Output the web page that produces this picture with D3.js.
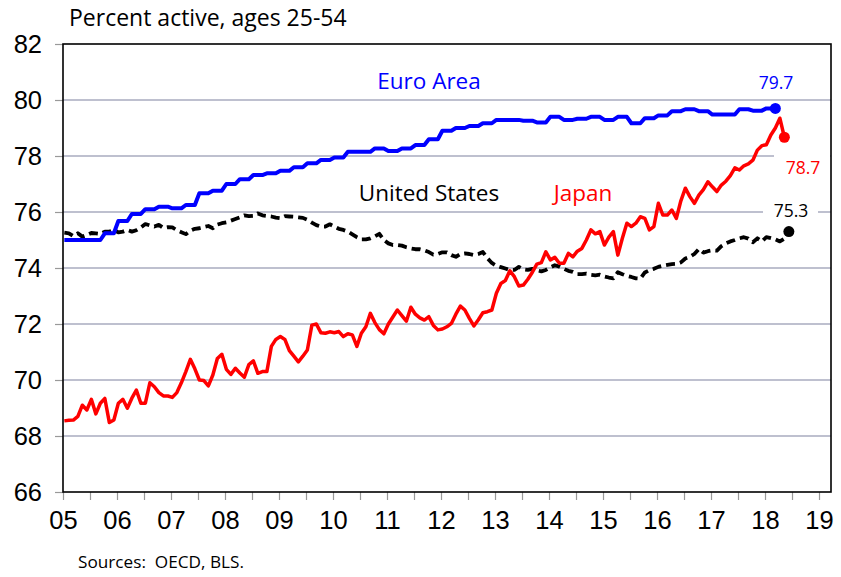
<!DOCTYPE html>
<html>
<head>
<meta charset="utf-8">
<script src="https://cdn.jsdelivr.net/npm/d3@7"></script>
<style>
  html, body { margin: 0; padding: 0; background: #fff; }
  svg { display: block; }
</style>
</head>
<body>
<svg id="chart" width="841" height="577"></svg>
<script>
// Prime-age (25-54) labour force participation, percent
const yearTicks = ["05","06","07","08","09","10","11","12","13","14","15","16","17","18","19"];
const yTicks = [66, 68, 70, 72, 74, 76, 78, 80, 82];

// Euro Area: quarterly, 2005Q1 - 2018Q1
const euroArea = [
  75.0, 75.0, 75.0, 75.24,
  75.68, 75.93, 76.1, 76.19,
  76.13, 76.25, 76.67, 76.76,
  77.0, 77.17, 77.32, 77.38,
  77.47, 77.6, 77.74, 77.86,
  77.95, 78.15, 78.15, 78.27,
  78.18, 78.27, 78.39, 78.6,
  78.9, 79.0, 79.07, 79.17,
  79.29, 79.29, 79.26, 79.2,
  79.4, 79.29, 79.33, 79.4,
  79.29, 79.4, 79.17, 79.35,
  79.45, 79.6, 79.67, 79.6,
  79.48, 79.48, 79.67, 79.62,
  79.7
];

// Japan: monthly, Jan 2005 - May 2018
const japan = [
  68.54, 68.56, 68.57, 68.7, 69.1, 68.93, 69.31, 68.79, 69.17, 69.34, 68.48, 68.57,
  69.17, 69.31, 68.99, 69.35, 69.64, 69.17, 69.17, 69.9, 69.76, 69.55, 69.43, 69.43,
  69.38, 69.55, 69.9, 70.3, 70.74, 70.4, 70.0, 69.98, 69.79, 70.18, 70.77, 70.92,
  70.38, 70.2, 70.42, 70.25, 70.1, 70.55, 70.68, 70.24, 70.3, 70.3, 71.2, 71.45,
  71.55, 71.45, 71.05, 70.85, 70.65, 70.85, 71.07, 71.96, 72.0, 71.69, 71.67, 71.72,
  71.69, 71.73, 71.55, 71.65, 71.61, 71.2, 71.67, 71.9, 72.38, 72.05, 71.8, 71.65,
  72.0, 72.25, 72.5, 72.3, 72.1, 72.6, 72.35, 72.22, 72.14, 72.26, 71.95, 71.79,
  71.82, 71.9, 72.02, 72.35, 72.64, 72.5, 72.2, 71.93, 72.15, 72.4, 72.44, 72.5,
  73.1, 73.45, 73.55, 73.9, 73.69, 73.36, 73.39, 73.6, 73.85, 74.14, 74.19, 74.58,
  74.29, 74.38, 74.17, 74.17, 74.52, 74.4, 74.6, 74.7, 75.0, 75.36, 75.22, 75.3,
  74.82, 75.1, 75.3, 74.46, 75.06, 75.6, 75.48, 75.6, 75.83, 75.77, 75.36, 75.48,
  76.31, 75.89, 75.89, 76.07, 75.77, 76.4, 76.85, 76.55, 76.31, 76.6, 76.8, 77.08,
  76.9, 76.73, 76.96, 77.1, 77.3, 77.58, 77.5, 77.65, 77.72, 77.85, 78.21, 78.37,
  78.4, 78.75, 79.0, 79.35, 78.67
];

// United States: monthly, Jan 2005 - Jun 2018
const unitedStates = [
  75.26, 75.24, 75.14, 75.24, 75.12, 75.18, 75.25, 75.24, 75.22, 75.3, 75.3, 75.36,
  75.27, 75.3, 75.36, 75.3, 75.35, 75.45, 75.57, 75.52, 75.48, 75.54, 75.43, 75.46,
  75.45, 75.35, 75.28, 75.21, 75.33, 75.4, 75.42, 75.46, 75.5, 75.42, 75.55, 75.6,
  75.63, 75.69, 75.75, 75.81, 75.88, 75.85, 75.86, 75.95, 75.88, 75.86, 75.84, 75.8,
  75.78, 75.85, 75.84, 75.83, 75.81, 75.79, 75.72, 75.62, 75.53, 75.48, 75.48, 75.56,
  75.48, 75.4, 75.36, 75.3, 75.2, 75.1, 75.02, 75.02, 75.06, 75.13, 75.22, 75.0,
  74.88, 74.82, 74.82, 74.8, 74.74, 74.7, 74.67, 74.67, 74.63, 74.57, 74.48, 74.5,
  74.56, 74.56, 74.46, 74.4, 74.5, 74.52, 74.5, 74.46, 74.5, 74.57, 74.35, 74.18,
  74.08, 74.03, 73.98, 73.93, 73.93, 74.04, 73.95, 73.93, 73.97, 73.92, 73.88, 73.93,
  74.02, 74.1, 74.05, 73.97, 73.9, 73.86, 73.78, 73.78, 73.8, 73.76, 73.74, 73.76,
  73.7, 73.66, 73.63, 73.85, 73.78, 73.72, 73.68, 73.63, 73.62, 73.84, 73.92, 73.97,
  74.04, 74.08, 74.11, 74.14, 74.15, 74.2, 74.34, 74.4, 74.5, 74.68, 74.55, 74.6,
  74.63, 74.62, 74.78, 74.88, 74.95, 75.0, 75.06, 75.1, 75.05, 74.92, 75.06, 74.95,
  75.1, 75.07, 75.02, 74.95, 75.05, 75.3
];

const W = 841, H = 577;
const margin = { left: 63, right: 10, top: 44, bottom: 85 };
const plotRight = W - margin.right;
const plotBottom = H - margin.bottom;

const svg = d3.select("#chart");

const x = d3.scaleLinear().domain([2005, 2019.222]).range([margin.left, plotRight]);
const y = d3.scaleLinear().domain([66, 82]).range([plotBottom, margin.top]);

// month index -> decimal year (points sit just inside each month)
const monthTime = m => 2005 + (m + 0.3) / 12;

// quarterly values carried across the three months of each quarter
const euroPts = [];
euroArea.forEach((v, q) => { for (let k = 0; k < 3; k++) euroPts.push([monthTime(q * 3 + k), v]); });
const japanPts = japan.map((v, m) => [monthTime(m), v]);
const usPts = unitedStates.map((v, m) => [monthTime(m), v]);

const sans = "'Open Sans', 'Noto Sans', sans-serif";
const arial = "'Liberation Sans', Arial, sans-serif";

// horizontal gridlines
svg.append("g")
  .selectAll("line")
  .data(yTicks.slice(1, -1))
  .join("line")
  .attr("x1", margin.left).attr("x2", plotRight)
  .attr("y1", d => y(d)).attr("y2", d => y(d))
  .attr("stroke", "#a9abbf").attr("stroke-width", 1.5);

// y axis
const yAxis = svg.append("g")
  .attr("transform", `translate(${margin.left},0)`)
  .call(d3.axisLeft(y).tickValues(yTicks).tickSize(8).tickPadding(13).tickFormat(d3.format("d")));
yAxis.select(".domain").remove();
yAxis.selectAll(".tick line").attr("stroke", "#999").attr("stroke-width", 1.2);
yAxis.selectAll(".tick text").attr("font-family", arial).attr("font-size", 25.5).attr("fill", "#000");

// x axis: half-year ticks, labels at each year
const halfYears = d3.range(2005, 2019.01, 0.5);
const xAxis = svg.append("g")
  .attr("transform", `translate(0,${plotBottom})`)
  .call(d3.axisBottom(x).tickValues(halfYears).tickSize(8).tickPadding(11)
    .tickFormat(d => Number.isInteger(d) ? yearTicks[d - 2005] : ""));
xAxis.select(".domain").remove();
xAxis.selectAll(".tick line").attr("stroke", "#999").attr("stroke-width", 1.2);
xAxis.selectAll(".tick text").attr("font-family", arial).attr("font-size", 25.5).attr("fill", "#000");

// plot frame
svg.append("rect")
  .attr("x", margin.left).attr("y", margin.top)
  .attr("width", plotRight - margin.left).attr("height", plotBottom - margin.top)
  .attr("fill", "none").attr("stroke", "#000").attr("stroke-width", 1.6);

const line = d3.line().x(d => x(d[0])).y(d => y(d[1]));

// white boxes under the end-value labels
svg.append("rect").attr("x", 774).attr("y", y(78.0) - 4).attr("width", 56).attr("height", 28).attr("fill", "#fff");
svg.append("rect").attr("x", 763).attr("y", y(76.1)).attr("width", 55).attr("height", 14).attr("fill", "#fff");

// series
svg.append("path").datum(usPts)
  .attr("d", line).attr("fill", "none").attr("stroke", "#000")
  .attr("stroke-width", 3.8).attr("stroke-dasharray", "9,5").attr("stroke-linejoin", "round");
svg.append("path").datum(euroPts)
  .attr("d", line).attr("fill", "none").attr("stroke", "#0000ff")
  .attr("stroke-width", 4).attr("stroke-linejoin", "round");
svg.append("path").datum(japanPts)
  .attr("d", line).attr("fill", "none").attr("stroke", "#ff0000")
  .attr("stroke-width", 3.5).attr("stroke-linejoin", "round");

// end-point markers
const ends = [
  { p: euroPts[euroPts.length - 1], c: "#0000ff" },
  { p: japanPts[japanPts.length - 1], c: "#ff0000" },
  { p: usPts[usPts.length - 1], c: "#000" }
];
svg.append("g").selectAll("circle").data(ends).join("circle")
  .attr("cx", d => x(d.p[0])).attr("cy", d => y(d.p[1])).attr("r", 5.5)
  .attr("fill", d => d.c);

// end-value labels
const fmt = d3.format(".1f");
svg.append("text").attr("x", 776).attr("y", 89).attr("text-anchor", "middle")
  .attr("font-family", sans).attr("font-size", 17.5).attr("fill", "#0000ff")
  .text(fmt(euroArea[euroArea.length - 1]));
svg.append("text").attr("x", 803).attr("y", 174).attr("text-anchor", "middle")
  .attr("font-family", sans).attr("font-size", 17.5).attr("fill", "#ff0000")
  .text(fmt(japan[japan.length - 1]));
svg.append("text").attr("x", 791).attr("y", 217).attr("text-anchor", "middle")
  .attr("font-family", sans).attr("font-size", 17.5).attr("fill", "#000")
  .text(fmt(unitedStates[unitedStates.length - 1]));

// series names
svg.append("text").attr("x", 429).attr("y", 89).attr("text-anchor", "middle")
  .attr("font-family", sans).attr("font-size", 22.5).attr("fill", "#0000ff").text("Euro Area");
svg.append("text").attr("x", 429).attr("y", 201).attr("text-anchor", "middle")
  .attr("font-family", sans).attr("font-size", 22.5).attr("fill", "#000").text("United States");
svg.append("text").attr("x", 583).attr("y", 201).attr("text-anchor", "middle")
  .attr("font-family", sans).attr("font-size", 22.5).attr("fill", "#ff0000").text("Japan");

// title and source
svg.append("text").attr("x", 69).attr("y", 26)
  .attr("font-family", sans).attr("font-size", 23).attr("fill", "#000")
  .text("Percent active, ages 25-54");
svg.append("text").attr("x", 78).attr("y", 568)
  .attr("font-family", sans).attr("font-size", 17.2).attr("fill", "#000")
  .style("white-space", "pre")
  .text("Sources:  OECD, BLS.");
</script>
</body>
</html>
